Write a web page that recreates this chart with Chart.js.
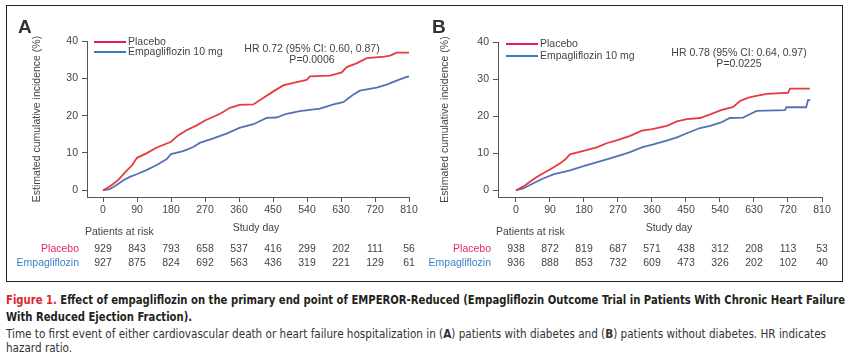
<!DOCTYPE html>
<html>
<head>
<meta charset="utf-8">
<script src="https://cdn.jsdelivr.net/npm/chart.js@4"></script>
<style>
  html, body { margin: 0; padding: 0; background: #fff; }
  #page { position: relative; width: 849px; height: 354px; overflow: hidden; }
  #frame { position: absolute; left: 6px; top: 5px; width: 835px; height: 275px; border: 1px solid #222; }
  canvas { position: absolute; top: 0; }
  .cap { position: absolute; left: 6px; white-space: nowrap; transform-origin: 0 50%;
         font-family: "Liberation Sans Narrow", "DejaVu Sans Condensed", "Roboto", sans-serif;
         font-stretch: condensed; font-size: 13px; line-height: 16px; }
  .bold { font-weight: bold; color: #231f20; }
  .reg { color: #333; }
  .red { color: #d7282f; }
</style>
</head>
<body>
<div id="page">
  <div id="frame"></div>
  <canvas id="chartA" width="424" height="285" style="left:0px"></canvas>
  <canvas id="chartB" width="425" height="285" style="left:424px"></canvas>
  <div class="cap bold" id="cap1" style="top:292px"><span class="red">Figure 1.</span> Effect of empagliflozin on the primary end point of EMPEROR-Reduced (Empagliflozin Outcome Trial in Patients With Chronic Heart Failure</div>
  <div class="cap bold" id="cap2" style="top:309px">With Reduced Ejection Fraction).</div>
  <div class="cap reg" id="cap3" style="top:326px">Time to first event of either cardiovascular death or heart failure hospitalization in (<b>A</b>) patients with diabetes and (<b>B</b>) patients without diabetes. HR indicates</div>
  <div class="cap reg" id="cap4" style="top:340px">hazard ratio.</div>
</div>
<script>
// Valores
const xTicks = [0, 90, 180, 270, 360, 450, 540, 630, 720, 810];
const yTicks = [0, 10, 20, 30, 40];

// Painel A: pacientes com diabetes
const placeboA_days = [0, 18, 40, 62, 76, 90, 115, 141, 180, 199, 221, 248, 270, 310, 336, 361, 398, 424, 451, 477, 504, 539, 548, 601, 632, 645, 671, 698, 745, 760, 777, 810];
const placeboA_pct  = [0, 1.0, 2.7, 5.2, 6.6, 8.7, 9.9, 11.4, 13.0, 14.7, 16.1, 17.4, 18.7, 20.5, 22.1, 22.9, 23.0, 24.7, 26.5, 28.1, 28.8, 29.6, 30.5, 30.7, 31.6, 33.0, 34.0, 35.4, 35.8, 36.1, 36.9, 36.9];
const empaA_days = [0, 18, 36, 54, 71, 89, 115, 141, 168, 180, 212, 239, 256, 292, 327, 361, 398, 433, 459, 486, 521, 574, 610, 636, 662, 680, 724, 751, 777, 802, 810];
const empaA_pct  = [0, 0.3, 1.4, 2.7, 3.6, 4.3, 5.4, 6.7, 8.3, 9.7, 10.5, 11.6, 12.7, 13.9, 15.2, 16.7, 17.7, 19.4, 19.5, 20.5, 21.2, 21.9, 23.0, 23.6, 25.6, 26.7, 27.5, 28.3, 29.4, 30.3, 30.5];
const riskA_placebo = [929, 843, 793, 658, 537, 416, 299, 202, 111, 56];
const riskA_empa    = [927, 875, 824, 692, 563, 436, 319, 221, 129, 61];

// Painel B: pacientes sem diabetes
const placeboB_days = [0, 19, 37, 55, 90, 116, 130, 143, 181, 214, 240, 271, 302, 333, 361, 399, 426, 452, 487, 514, 543, 575, 593, 615, 633, 664, 712, 720, 725, 778];
const placeboB_pct  = [0, 1.0, 2.3, 3.6, 5.6, 7.2, 8.3, 9.7, 10.7, 11.6, 12.7, 13.6, 14.7, 16.1, 16.5, 17.4, 18.6, 19.2, 19.5, 20.5, 21.6, 22.5, 24.1, 25.0, 25.4, 26.0, 26.3, 26.3, 27.4, 27.4];
const empaB_days = [0, 19, 46, 72, 99, 143, 181, 222, 271, 302, 333, 361, 399, 426, 452, 487, 514, 543, 566, 601, 619, 637, 712, 716, 768, 773, 779];
const empaB_pct  = [0, 0.5, 1.9, 3.2, 4.3, 5.4, 6.6, 7.8, 9.3, 10.3, 11.6, 12.3, 13.4, 14.3, 15.4, 16.8, 17.4, 18.3, 19.5, 19.6, 20.5, 21.4, 21.6, 22.4, 22.4, 24.3, 24.3];
const riskB_placebo = [938, 872, 819, 687, 571, 438, 312, 208, 113, 53];
const riskB_empa    = [936, 888, 853, 732, 609, 473, 326, 202, 102, 40];

const FONT = 'Arial, "Liberation Sans", sans-serif';
const RED = '#e53b3f', BLUE = '#5571b5';
const RED_LEG = '#e41e4f', BLUE_LEG = '#3d78c4';

function toPoints(days, pct) {
    return days.map((d, i) => ({ x: d, y: pct[i] }));
}

// Plugin para textos do painel (letra, legenda, HR, tabela de risco)
const panelText = {
    id: 'panelText',
    afterDraw(chart, args, o) {
        const ctx = chart.ctx;
        const xs = chart.scales.x;
        const area = chart.chartArea;
        ctx.save();
        ctx.textBaseline = 'middle';

        ctx.fillStyle = '#333';
        ctx.font = 'bold 19px ' + FONT;
        ctx.textAlign = 'left';
        ctx.textBaseline = 'alphabetic';
        ctx.fillText(o.letter, o.letterX, 33);
        ctx.textBaseline = 'middle';

        ctx.font = '10.5px ' + FONT;
        ctx.fillStyle = '#444';
        ctx.save();
        ctx.translate(o.titleX, (area.top + area.bottom) / 2);
        ctx.rotate(-Math.PI / 2);
        ctx.textAlign = 'center';
        ctx.fillText('Estimated cumulative incidence (%)', 0, 0);
        ctx.restore();

        // legenda
        const leg = [['Placebo', RED_LEG, o.legY[0]], ['Empagliflozin 10 mg', BLUE_LEG, o.legY[1]]];
        leg.forEach(([txt, col, y]) => {
            ctx.strokeStyle = col;
            ctx.lineWidth = 2;
            ctx.beginPath();
            ctx.moveTo(o.legX, y);
            ctx.lineTo(o.legX + 32, y);
            ctx.stroke();
            ctx.fillStyle = '#444';
            ctx.textAlign = 'left';
            ctx.fillText(txt, o.legX + 34, y);
        });

        ctx.textAlign = 'center';
        ctx.fillText(o.hr, o.hrX, o.hrY);
        ctx.fillText(o.p, o.hrX, o.hrY + 11);

        const mid = (xs.getPixelForValue(0) + xs.getPixelForValue(810)) / 2;
        ctx.fillText('Study day', mid, 228);
        ctx.textAlign = 'left';
        ctx.fillText('Patients at risk', area.left - 2, 232);

        ctx.textAlign = 'right';
        ctx.fillStyle = '#e6246e';
        ctx.fillText('Placebo', o.rowLabelX, 249);
        ctx.fillStyle = '#3a80c8';
        ctx.fillText('Empagliflozin', o.rowLabelX, 263);

        ctx.textAlign = 'center';
        ctx.fillStyle = '#444';
        xTicks.forEach((d, i) => {
            const px = xs.getPixelForValue(d);
            ctx.fillText(String(o.riskP[i]), px, 249);
            ctx.fillText(String(o.riskE[i]), px, 263);
        });
        ctx.restore();
    }
};

function renderPanel(canvasId, cfg) {
    const ctx = document.getElementById(canvasId).getContext('2d');
    return new Chart(ctx, {
        type: 'line',
        data: {
            datasets: [
                {
                    label: 'Placebo',
                    data: toPoints(cfg.pDays, cfg.pPct),
                    borderColor: RED,
                    borderWidth: 1.8,
                    pointRadius: 0,
                    tension: 0,
                    fill: false
                },
                {
                    label: 'Empagliflozin 10 mg',
                    data: toPoints(cfg.eDays, cfg.ePct),
                    borderColor: BLUE,
                    borderWidth: 1.8,
                    pointRadius: 0,
                    tension: 0,
                    fill: false
                }
            ]
        },
        options: {
            responsive: false,
            animation: false,
            events: [],
            layout: { padding: { left: 0, right: cfg.padRight, top: cfg.top, bottom: 68 } },
            scales: {
                x: {
                    type: 'linear',
                    min: cfg.xMin,
                    max: 810,
                    afterBuildTicks: s => { s.ticks = xTicks.map(v => ({ value: v })); },
                    afterFit: s => { s.height = 20; },
                    grid: { drawOnChartArea: false, drawTicks: true, tickLength: 5, color: '#555' },
                    border: { display: true, color: '#555', width: 1 },
                    ticks: { padding: 2, color: '#444', font: { size: 10.5, family: FONT }, maxRotation: 0, autoSkip: false }
                },
                y: {
                    type: 'linear',
                    min: -1.8,
                    max: 40,
                    afterBuildTicks: s => { s.ticks = yTicks.map(v => ({ value: v })); },
                    afterFit: s => { s.width = cfg.yWidth; },
                    grid: { drawOnChartArea: false, drawTicks: true, tickLength: 5, color: '#555' },
                    border: { display: true, color: '#555', width: 1 },
                    ticks: { padding: 4, color: '#444', font: { size: 10.5, family: FONT } }
                }
            },
            plugins: {
                legend: { display: false },
                tooltip: { enabled: false },
                panelText: cfg.text
            }
        },
        plugins: [panelText]
    });
}

renderPanel('chartA', {
    pDays: placeboA_days, pPct: placeboA_pct, eDays: empaA_days, ePct: empaA_pct,
    xMin: -42.4, yWidth: 87, padRight: 15, top: 41,
    text: {
        letter: 'A', letterX: 18, titleX: 37,
        legX: 94, legY: [42, 52],
        hr: 'HR 0.72 (95% CI: 0.60, 0.87)', p: 'P=0.0006', hrX: 312, hrY: 49,
        rowLabelX: 79, riskP: riskA_placebo, riskE: riskA_empa
    }
});

renderPanel('chartB', {
    pDays: placeboB_days, pPct: placeboB_pct, eDays: empaB_days, ePct: empaB_pct,
    xMin: -47.6, yWidth: 74, padRight: 27, top: 42,
    text: {
        letter: 'B', letterX: 8, titleX: 21,
        legX: 82, legY: [44, 56],
        hr: 'HR 0.78 (95% CI: 0.64, 0.97)', p: 'P=0.0225', hrX: 315, hrY: 53,
        rowLabelX: 67, riskP: riskB_placebo, riskE: riskB_empa
    }
});

// Ajusta a largura das linhas da legenda da figura
function fitCaption(ids, target) {
    const first = document.getElementById(ids[0]);
    const w = first.getBoundingClientRect().width;
    const k = target / w;
    ids.forEach(id => { document.getElementById(id).style.transform = 'scaleX(' + k + ')'; });
}
fitCaption(['cap1', 'cap2'], 839);
fitCaption(['cap3', 'cap4'], 820);
</script>
</body>
</html>
